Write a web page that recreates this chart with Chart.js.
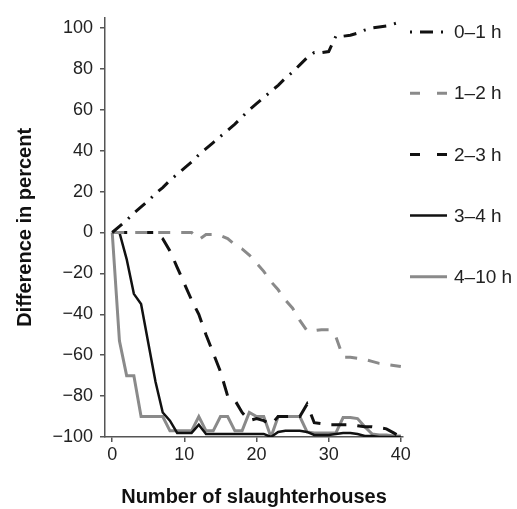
<!DOCTYPE html>
<html>
<head>
<meta charset="utf-8">
<title>Difference in percent by number of slaughterhouses</title>
<script src="https://cdn.jsdelivr.net/npm/chart.js@4.4.0/dist/chart.umd.min.js"></script>
<style>
    html, body { margin: 0; padding: 0; background: #ffffff; }
    #chart-wrap { width: 517px; height: 509px; position: relative; }
</style>
</head>
<body>
<div id="chart-wrap"><canvas id="slaughter-chart"></canvas></div>
<script>
// Number of slaughterhouses (x values)
const slaughterhouses = [0, 1, 2, 3, 4, 5, 6, 7, 8, 9, 10, 11, 12, 13, 14, 15, 16, 17, 18, 19, 20,
    21, 22, 23, 24, 25, 26, 27, 28, 29, 30, 31, 32, 33, 34, 35, 36, 37, 38, 39, 40];

// Difference in percent per transport time class
const diff0to1 = [0, 3, 6, 9.5, 12.5, 15.5, 19, 22, 25.5, 28.5, 31.5, 34.5, 38, 41, 44, 47, 50, 53, 56.5, 60, 63,
    66, 69, 72, 75.5, 78.5, 82, 85.5, 88, 88, 88.5, 96, 96, 96.5, 97.5, 99, 100, 100.5, 101, 102, 103];
const diff1to2 = [0, 0, 0, 0, 0, 0, 0, 0, 0, 0, 0, 0, -3.5, -1, -1, -1.5, -3, -6, -8, -11, -15,
    -19, -24, -28, -33, -37, -43, -48, -48, -47.5, -47.5, -51, -61, -61, -61.5, -62, -63, -64, -64.5, -65, -65.5];
const diff2to3 = [0, 0, 0, 0, 0, 0, 0, -3, -9, -17, -25, -33, -40, -50, -59, -68, -80, -82, -88, -92, -91,
    -92, -94, -90, -90, -90, -90, -84, -93, -93.5, -94, -94, -94, -94, -94.5, -95, -95, -95.5, -96, -98, -100];
const diff3to4 = [0, 0, -13, -30, -35, -54, -73, -88, -92, -98, -98, -98, -94, -98.5, -98.5, -98.5, -98.5, -98.5, -98.5, -98.5, -98.5,
    -98.5, -100, -97.5, -97, -97, -97, -97.5, -99, -99, -99, -98.5, -98, -98, -98.5, -99.5, -99.5, -100, -100, -100, -100];
const diff4to10 = [0, -53, -70, -70, -90, -90, -90, -90, -97, -97, -97, -97, -90, -97, -97, -90, -90, -97, -97, -88, -90,
    -90, -100, -90, -90, -90, -90, -97.5, -98, -98, -98, -98, -90.5, -90.5, -91, -95, -98.5, -99, -99, -99.5, -99.5];

// Legend labels and tick labels
const seriesLabels = ['0\u20131 h', '1\u20132 h', '2\u20133 h', '3\u20134 h', '4\u201310 h'];
const xTicks = [0, 10, 20, 30, 40];
const yTicks = [-100, -80, -60, -40, -20, 0, 20, 40, 60, 80, 100];

const FONT = "'Liberation Sans', Arial, Helvetica, sans-serif";
const BLACK = '#111111';
const GREY = '#8a8a8a';

function toPoints(values) {
    return slaughterhouses.map(function(x, i) {
        return { x: x, y: values[i] };
    });
}

// Legend drawn at the right, one line sample and label per dataset
const sideLegend = {
    id: 'sideLegend',
    afterDraw: function(chart) {
        const ctx = chart.ctx;
        const startY = 32;
        const step = 61.2;
        ctx.save();
        chart.data.datasets.forEach(function(ds, i) {
            const y = startY + i * step;
            ctx.beginPath();
            ctx.setLineDash(ds.legendDash || ds.borderDash || []);
            ctx.lineDashOffset = 0;
            ctx.lineWidth = ds.borderWidth;
            ctx.strokeStyle = ds.borderColor;
            ctx.moveTo(410, y);
            ctx.lineTo(447, y);
            ctx.stroke();
            ctx.setLineDash([]);
            ctx.fillStyle = '#222222';
            ctx.font = '19px ' + FONT;
            ctx.textAlign = 'left';
            ctx.textBaseline = 'middle';
            ctx.fillText(ds.label, 454, y + 1);
        });
        ctx.restore();
    }
};

function createSlaughterChart() {
    const canvas = document.getElementById('slaughter-chart');
    const ctx = canvas.getContext('2d');

    new Chart(ctx, {
        type: 'line',
        data: {
            datasets: [
                {
                    label: seriesLabels[0],
                    data: toPoints(diff0to1),
                    borderColor: BLACK,
                    borderWidth: 3,
                    borderDash: [13, 8, 2, 8],
                    legendDash: [2, 8, 13, 8]
                },
                {
                    label: seriesLabels[1],
                    data: toPoints(diff1to2),
                    borderColor: GREY,
                    borderWidth: 3,
                    borderDash: [12, 11],
                    legendDash: [10, 17]
                },
                {
                    label: seriesLabels[2],
                    data: toPoints(diff2to3),
                    borderColor: BLACK,
                    borderWidth: 3,
                    borderDash: [15, 11],
                    legendDash: [10, 17]
                },
                {
                    label: seriesLabels[3],
                    data: toPoints(diff3to4),
                    borderColor: BLACK,
                    borderWidth: 2.5
                },
                {
                    label: seriesLabels[4],
                    data: toPoints(diff4to10),
                    borderColor: GREY,
                    borderWidth: 3
                }
            ]
        },
        options: {
            responsive: true,
            maintainAspectRatio: false,
            animation: false,
            elements: {
                point: { radius: 0, hoverRadius: 0 },
                line: { tension: 0, fill: false }
            },
            layout: {
                padding: { top: 15, right: 114, bottom: 0, left: 0 }
            },
            scales: {
                x: {
                    type: 'linear',
                    min: -1,
                    max: 40.3,
                    afterBuildTicks: function(scale) {
                        scale.ticks = xTicks.map(function(v) { return { value: v }; });
                    },
                    afterFit: function(scale) { scale.height = 72; },
                    grid: {
                        display: true,
                        drawOnChartArea: false,
                        drawTicks: true,
                        tickLength: 5,
                        color: '#555555',
                        lineWidth: 1.5
                    },
                    border: { display: true, color: '#555555', width: 1.5 },
                    ticks: {
                        color: '#222222',
                        font: { family: FONT, size: 18 },
                        padding: 2,
                        maxRotation: 0
                    },
                    title: {
                        display: true,
                        text: 'Number of slaughterhouses',
                        color: BLACK,
                        font: { family: FONT, size: 20, weight: 'bold' },
                        padding: { top: 0, bottom: 0 }
                    }
                },
                y: {
                    type: 'linear',
                    min: -100,
                    max: 105,
                    afterBuildTicks: function(scale) {
                        scale.ticks = yTicks.map(function(v) { return { value: v }; });
                    },
                    afterFit: function(scale) { scale.width = 105; },
                    grid: {
                        display: true,
                        drawOnChartArea: false,
                        drawTicks: true,
                        tickLength: 5,
                        color: '#555555',
                        lineWidth: 1.5
                    },
                    border: { display: true, color: '#555555', width: 1.5 },
                    ticks: {
                        color: '#222222',
                        font: { family: FONT, size: 18 },
                        padding: 7,
                        callback: function(value) {
                            return value < 0 ? '\u2212' + Math.abs(value) : String(value);
                        }
                    },
                    title: {
                        display: true,
                        text: 'Difference in percent',
                        color: BLACK,
                        font: { family: FONT, size: 20, weight: 'bold' },
                        padding: { top: 13, bottom: 0 }
                    }
                }
            },
            plugins: {
                legend: { display: false },
                tooltip: { enabled: false }
            }
        },
        plugins: [sideLegend]
    });
}

createSlaughterChart();
</script>
</body>
</html>
